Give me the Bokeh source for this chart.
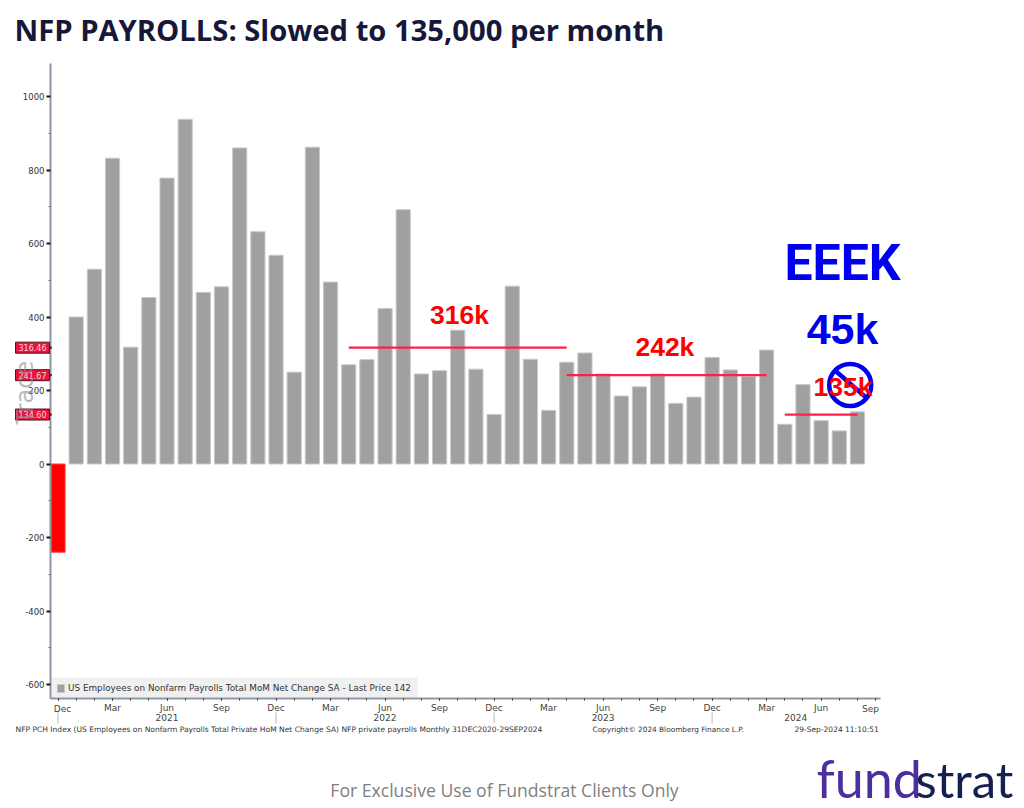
from bokeh.embed import file_html
from bokeh.resources import INLINE
from bokeh.plotting import figure
from bokeh.models import (ColumnDataSource, Range1d, FixedTicker, LinearAxis, Label, Legend, LegendItem)

# ---- data ----
months = list(range(45))
payrolls = [-240, 400, 530, 832, 318, 453, 778, 938, 467, 482, 860, 632, 568,
            250, 862, 495, 270, 284, 423, 692, 245, 254, 364, 258, 135,
            484, 285, 146, 277, 302, 245, 185, 210, 245, 165, 182, 290,
            256, 238, 310, 108, 216, 118, 90, 142]
avg_start = [16, 28, 40]
avg_end = [28, 39, 44]
avg_val = [316.46, 241.67, 134.60]
avg_tags = ["316.46", "241.67", "134.60"]
avg_labels = ["316k", "242k", "135k"]
avg_label_x = [22.1, 33.4, 43.2]
avg_label_y = [405, 318, 210]

y_ticks = [-600, -400, -200, 0, 200, 400, 600, 800, 1000]
y_minor = [-500, -300, -100, 100, 300, 500, 700, 900]
y_labels = ["-600", "-400", "-200", "0", "200", "400", "600", "800", "1000"]
x_ticks = [0, 3, 6, 9, 12, 15, 18, 21, 24, 27, 30, 33, 36, 39, 42, 45]
x_labels = ["", "Mar", "Jun", "Sep", "Dec", "Mar", "Jun", "Sep", "Dec", "Mar", "Jun", "Sep", "Dec", "Mar", "Jun", ""]
x_minor = list(range(0, 46))
year_x = [6, 18, 30, 40.6]
years = ["2021", "2022", "2023", "2024"]
year_seps = [0, 12, 24, 36]

title = "NFP PAYROLLS: Slowed to 135,000 per month"
legend_text = "US Employees on Nonfarm Payrolls Total MoM Net Change SA - Last Price 142"
foot_left = "NFP PCH Index (US Employees on Nonfarm Payrolls Total Private HoM Net Change SA) NFP private payrolls  Monthly 31DEC2020-29SEP2024"
foot_mid = "Copyright\u00a9 2024 Bloomberg Finance L.P."
foot_right = "29-Sep-2024 11:10:51"
clients = "For Exclusive Use of Fundstrat Clients Only"

# ---- figure: the frame fills the canvas, the axes are fixed inside it ----
W, H = 1024, 808
PX_PER_MONTH, X0 = 18.17, 57.5
PX_PER_UNIT, Y0 = 0.3675, 463.5
def xd(px):
    return (px - X0) / PX_PER_MONTH
def yd(py):
    return (Y0 - py) / PX_PER_UNIT
def sx(px):
    return px
def sy(py):
    return H - py

p = figure(width=W, height=H, output_backend="svg", toolbar_location=None,
           x_range=Range1d(xd(0), xd(W)), y_range=Range1d(yd(H), yd(0)),
           x_axis_location=None, y_axis_location=None,
           min_border_left=0, min_border_right=0, min_border_top=0, min_border_bottom=0)
p.outline_line_color = None
p.grid.visible = False

AX = "#8d97a3"
FONT = "DejaVu Sans"
yax = LinearAxis(ticker=FixedTicker(ticks=y_ticks, minor_ticks=y_minor),
                 major_label_overrides=dict(zip(y_ticks, y_labels)),
                 fixed_location=xd(50), bounds=(yd(698), yd(63)))
yax.axis_line_color = AX
yax.axis_line_width = 2
yax.major_tick_line_color = "#101820"
yax.major_tick_line_width = 2
yax.major_tick_out = 4
yax.major_tick_in = 0
yax.minor_tick_line_color = "#6a7480"
yax.minor_tick_out = 2
yax.minor_tick_in = 0
yax.major_label_text_font = FONT
yax.major_label_text_font_size = "8.5px"
yax.major_label_text_color = "#333333"
yax.major_label_standoff = 2
p.add_layout(yax, "left")

xax = LinearAxis(ticker=FixedTicker(ticks=x_ticks, minor_ticks=x_minor),
                 major_label_overrides=dict(zip(x_ticks, x_labels)),
                 fixed_location=yd(698), bounds=(xd(50), xd(880)))
xax.axis_line_color = AX
xax.axis_line_width = 2
xax.major_tick_line_color = "#333333"
xax.major_tick_out = 2
xax.major_tick_in = 0
xax.minor_tick_line_color = "#333333"
xax.minor_tick_out = 2
xax.minor_tick_in = 0
xax.major_label_text_font = FONT
xax.major_label_text_font_size = "9px"
xax.major_label_text_color = "#444444"
xax.major_label_standoff = 2
p.add_layout(xax, "below")

# legend backing
p.quad(left=xd(51), right=xd(417), bottom=yd(697), top=yd(677), fill_color="#f0f0f0", line_color=None)

# bars
colors = ["#ff0000" if v < 0 else "#a0a0a0" for v in payrolls]
edges = ["#ff4040" if v < 0 else "#c8c8c8" for v in payrolls]
src = ColumnDataSource(dict(x=months, top=payrolls, color=colors, edge=edges))
bars = p.vbar(x="x", top="top", bottom=0, width=0.78, fill_color="color", line_color="edge",
              line_width=1, source=src)

# year separators below the axis
p.segment(x0=year_seps, x1=year_seps, y0=yd(712), y1=yd(723), line_color="#b8b8b8", line_width=1)

# average lines
p.segment(x0=avg_start, x1=avg_end, y0=avg_val, y1=avg_val, line_color="#ff1f4b", line_width=2.2)
for x_, y_, t_ in zip(avg_label_x, avg_label_y, avg_labels):
    p.add_layout(Label(x=x_, y=y_, text=t_, text_color="#ff0000", text_font="Liberation Sans",
                       text_font_style="bold", text_font_size="26.5px", text_align="center",
                       text_baseline="middle"))

# prohibition sign
sign_x = [43.6]
sign_y = [215]
p.scatter(x=sign_x, y=sign_y, size=42, marker="circle", fill_color=None, line_color="#0000ee", line_width=4.5,
          level="annotation")
p.segment(x0=[42.75], x1=[44.5], y0=[255], y1=[180], line_color="#0000ee", line_width=4.5, level="annotation")

def txt(x, y, text, size, color, font=FONT, style="normal", align="left", base="alphabetic", **kw):
    # a Label's alphabetic baseline lands about 0.39 em low
    yy = y - 0.39 * size if base == "alphabetic" else y
    p.add_layout(Label(x=sx(x), y=sy(yy), x_units="screen", y_units="screen", text=text,
                       text_font_size=f"{size}px", text_color=color, text_font=font,
                       text_font_style=style, text_align=align, text_baseline=base, **kw))

txt(14, 41, title, 29.2, "#17173a", font="Open Sans", style="bold")
txt(842, 282, "EEEK", 50, "#0000ee", font="Roboto", style="bold", align="center")
txt(842, 345, "45k", 43, "#0000ee", font="Liberation Sans", style="bold", align="center")

# price tags, then the watermark across them
p.scatter(x=[xd(48)] * 3, y=avg_val, marker="triangle", angle=-1.5708, size=6, fill_color="#e8163f",
          line_color="#5a1020", level="annotation")
for v_, t_ in zip(avg_val, avg_tags):
    p.add_layout(Label(x=sx(15), y=v_, x_units="screen", y_units="data", text=t_, text_color="#ffd0d8",
                       text_font=FONT, text_font_size="8px", text_baseline="middle",
                       background_fill_color="#e8163f", border_line_color="#5a1020",
                       padding=(3, 2)))
txt(25, 424, "Trace", 24, "#8a8a8a", font="DejaVu Sans", angle=1.5708, angle_units="rad",
    align="left", base="middle", text_alpha=0.6)

# bottom axis: end months and years
txt(62, 703, "Dec", 9, "#444444", align="center", base="top")
txt(870, 703, "Sep", 9, "#444444", align="center", base="top")
for x_, t_ in zip(year_x, years):
    p.add_layout(Label(x=x_, y=sy(713), y_units="screen", text=t_, text_font=FONT, text_font_size="9px",
                       text_color="#444444", text_align="center", text_baseline="top"))

# footer
txt(15, 732, foot_left, 7.55, "#333333")
txt(592, 732, foot_mid, 7.35, "#333333")
txt(794, 732, foot_right, 7.5, "#333333")
txt(504, 796, clients, 17.6, "#7f7f7f", font="Open Sans", align="center")
txt(816, 798, "fund", 52, "#4b2f9e", font="Lato")
txt(915, 798, "strat", 49, "#14204f", font="Lato")

# legend
lg = Legend(items=[LegendItem(label=legend_text, renderers=[bars], index=1)], location=(56, H - 693),
            margin=0, padding=0, spacing=0, glyph_width=9, glyph_height=10, label_height=10, label_standoff=3,
            label_text_font=FONT, label_text_font_size="8.85px", label_text_color="#333333",
            background_fill_alpha=0, border_line_color=None)
p.add_layout(lg, "center")

open("out.html", "w").write(file_html(p, INLINE))
